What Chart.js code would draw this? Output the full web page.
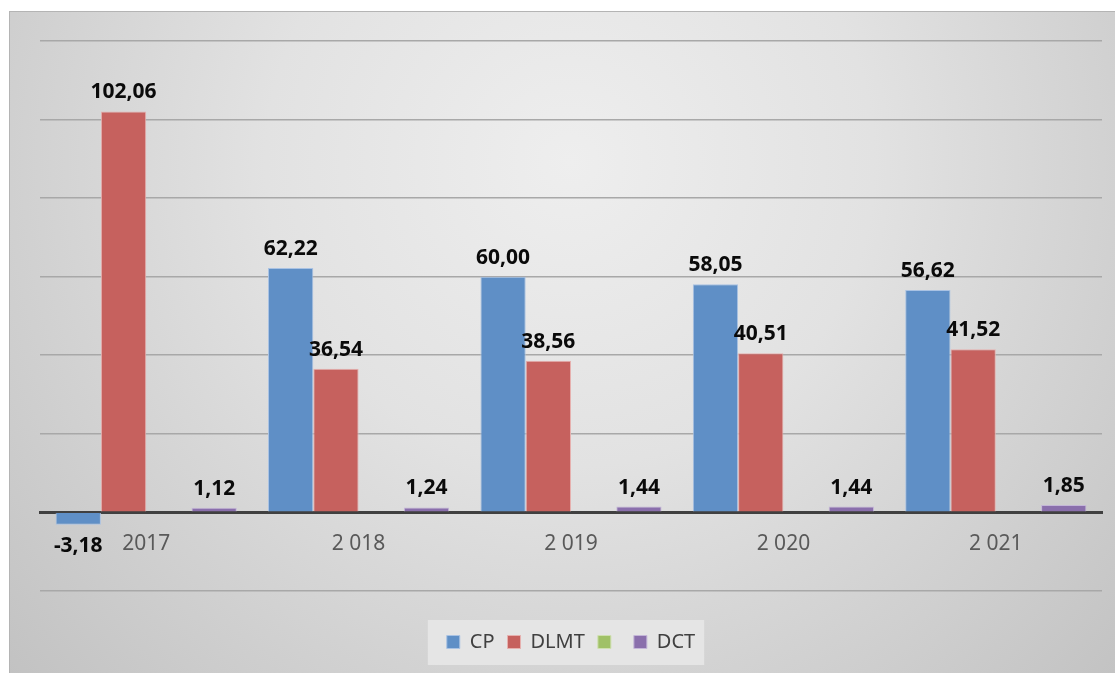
<!DOCTYPE html>
<html>
<head>
<meta charset="utf-8">
<script src="https://cdn.jsdelivr.net/npm/chart.js@4/dist/chart.umd.min.js"></script>
<style>
  html, body { margin: 0; padding: 0; background: #fff; }
  #wrap {
    position: absolute; left: 9px; top: 11px;
    width: 1106px; height: 662px;
    border-left: 1px solid #b4b4b4; border-top: 1px solid #b4b4b4;
  }
  canvas { display: block; }
</style>
</head>
<body>
<div id="wrap"><canvas id="chart" width="1106" height="662"></canvas></div>
<script>
// chart data
var years = ["2017", "2 018", "2 019", "2 020", "2 021"];
var cpValues = [-3.18, 62.22, 60.00, 58.05, 56.62];
var dlmtValues = [102.06, 36.54, 38.56, 40.51, 41.52];
var greenValues = [null, null, null, null, null];
var dctValues = [1.12, 1.24, 1.44, 1.44, 1.85];

var fontName = '"Noto Sans", "Open Sans", sans-serif';

// gray radial backdrop like the office chart style
var backdrop = {
  id: 'backdrop',
  beforeDraw: function(c) {
    var ctx = c.ctx;
    var g = ctx.createRadialGradient(560, 150, 0, 560, 150, 760);
    g.addColorStop(0, '#eeeeee');
    g.addColorStop(0.4, '#e2e2e2');
    g.addColorStop(1, '#c2c2c2');
    ctx.save();
    ctx.fillStyle = g;
    ctx.fillRect(0, 0, c.width, c.height);

    // box behind the legend
    var boxes = c.legend && c.legend.legendHitBoxes;
    if (boxes && boxes.length) {
      var l = boxes[0].left - 19;
      var r = boxes[boxes.length - 1].left + boxes[boxes.length - 1].width + 9;
      var t = boxes[0].top + boxes[0].height / 2 - 22;
      ctx.fillStyle = 'rgba(232,232,232,0.85)';
      ctx.fillRect(l, t, r - l, 45);
    }
    ctx.restore();
  }
};

// value labels over / under each bar
var valueLabels = {
  id: 'valueLabels',
  afterDatasetsDraw: function(c) {
    var ctx = c.ctx;
    ctx.save();
    ctx.font = 'bold 21px ' + fontName;
    ctx.fillStyle = '#0a0a0a';
    ctx.textAlign = 'center';
    ctx.textBaseline = 'middle';
    c.data.datasets.forEach(function(ds, i) {
      var meta = c.getDatasetMeta(i);
      meta.data.forEach(function(bar, j) {
        var v = ds.data[j];
        if (v == null) return;
        var txt = v.toFixed(2).replace('.', ',');
        var y = v < 0 ? bar.y + 21 : bar.y - 19;
        ctx.fillText(txt, bar.x, y);
      });
    });
    ctx.restore();
  }
};

function barSet(label, data, fill, edge) {
  return {
    label: label,
    data: data,
    backgroundColor: fill,
    borderColor: edge,
    borderWidth: 1,
    categoryPercentage: 0.853,
    barPercentage: 1.0
  };
}

new Chart(document.getElementById('chart'), {
  type: 'bar',
  data: {
    labels: years,
    datasets: [
      barSet('CP', cpValues, '#5f8fc6', '#a9c2e3'),
      barSet('DLMT', dlmtValues, '#c6615e', '#e6b0ae'),
      barSet('', greenValues, '#a0c167', '#cfe0b0'),
      barSet('DCT', dctValues, '#8a6fac', '#c4b6d8')
    ]
  },
  options: {
    responsive: false,
    animation: false,
    layout: { padding: { left: 30, right: 14, top: 29, bottom: 12 } },
    plugins: {
      title: { display: false },
      tooltip: { enabled: false },
      legend: {
        display: true,
        position: 'bottom',
        // empty title only used as spacer above the legend row
        title: { display: true, text: ' ', font: { size: 1 }, padding: { top: 14, bottom: 13 } },
        labels: {
          boxWidth: 13,
          boxHeight: 13,
          padding: 13,
          color: '#404040',
          font: { family: fontName, size: 20 }
        }
      }
    },
    scales: {
      x: {
        position: { y: 0 },
        grid: { display: false, drawTicks: false },
        border: { display: true, color: '#404040', width: 3 },
        ticks: {
          color: '#595959',
          padding: 19,
          font: { family: fontName, size: 21 }
        }
      },
      y: {
        min: -20,
        max: 120,
        ticks: { display: false, stepSize: 20 },
        border: { display: false },
        grid: {
          drawTicks: false,
          lineWidth: 1.5,
          color: function(ctx) {
            return ctx.tick && ctx.tick.value === 0 ? 'rgba(0,0,0,0)' : '#a8a8a8';
          }
        }
      }
    }
  },
  plugins: [backdrop, valueLabels]
});
</script>
</body>
</html>
